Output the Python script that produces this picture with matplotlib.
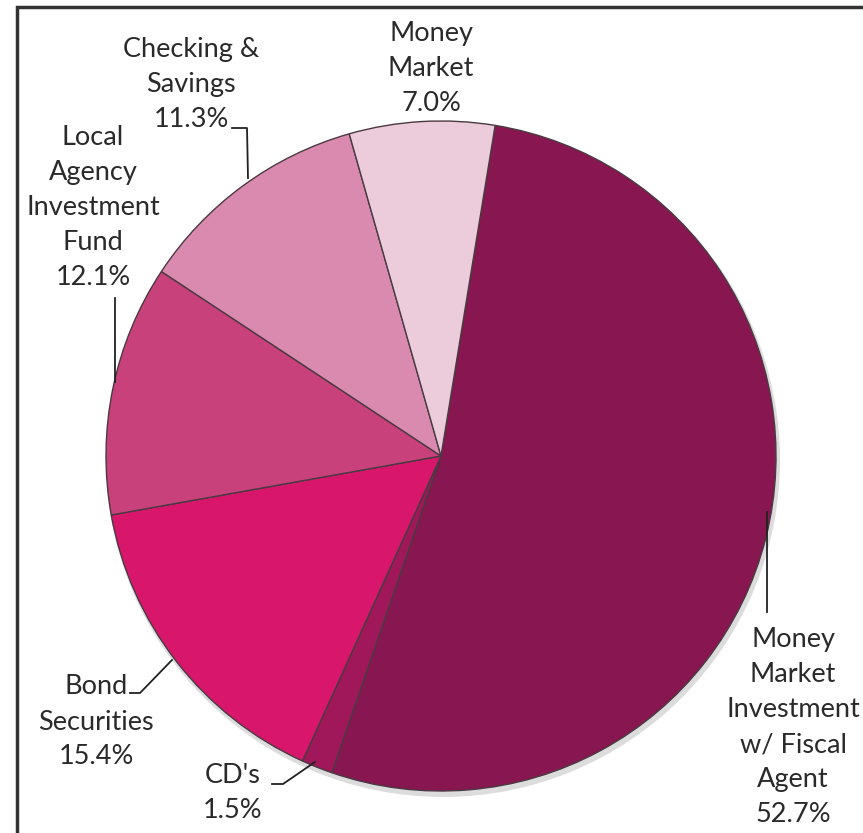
import matplotlib
matplotlib.use("Agg")
import matplotlib.pyplot as plt
from matplotlib.patches import Rectangle

categories = ["Money\nMarket\nInvestment\nw/ Fiscal\nAgent", "CD's", "Bond\nSecurities",
              "Local\nAgency\nInvestment\nFund", "Checking &\nSavings", "Money\nMarket"]
values = [52.7, 1.5, 15.4, 12.1, 11.3, 7.0]
colors = ["#881650", "#A0185A", "#D8176C", "#C8417B", "#D98AAE", "#ECCBDA"]

W, H = 863, 833
fig = plt.figure(figsize=(W / 100, H / 100), dpi=100)
ax = fig.add_axes([0, 0, 1, 1])

def py(y):
    return H - y

cx, cy, r = 441, 456, 335

# subtle shadow
ax.pie([1], colors=["#dcdcdc"], radius=r + 2, center=(cx + 2, py(cy) - 4),
       frame=True, wedgeprops=dict(linewidth=0))
wedges, _ = ax.pie(values, colors=colors, startangle=80.7, counterclock=False,
                   radius=r, center=(cx, py(cy)), frame=True,
                   wedgeprops=dict(edgecolor="#4a3a42", linewidth=1.0))
ax.set_xlim(0, W)
ax.set_ylim(0, H)
ax.set_aspect("equal")
ax.axis("off")

font = dict(family=["Lato", "DejaVu Sans"], fontsize=19.5, color="#2a2a2a",
            ha="center", va="center", linespacing=1.5)

def label(i, x, y):
    ax.text(x, py(y), f"{categories[i]}\n{values[i]:.1f}%", **font)

label(0, 793, 727)
label(1, 233, 793)
label(2, 96, 722)
label(3, 93, 207)
label(4, 191, 84)
label(5, 431, 68)

lc = dict(color="#222222", linewidth=1.3)
ax.plot([767, 767], [py(512), py(612)], **lc)
ax.plot([272, 283, 315], [py(784), py(784), py(762)], **lc)
ax.plot([130, 140, 172], [py(693), py(693), py(660)], **lc)
ax.plot([115, 115], [py(298), py(382)], **lc)
ax.plot([232, 247, 248], [py(128), py(128), py(178)], **lc)

# frame
ax.add_patch(Rectangle((17, -10), W + 20, py(7) + 10, fill=False,
                       edgecolor="#333333", linewidth=2.5))

fig.savefig("out.png", dpi=100)
